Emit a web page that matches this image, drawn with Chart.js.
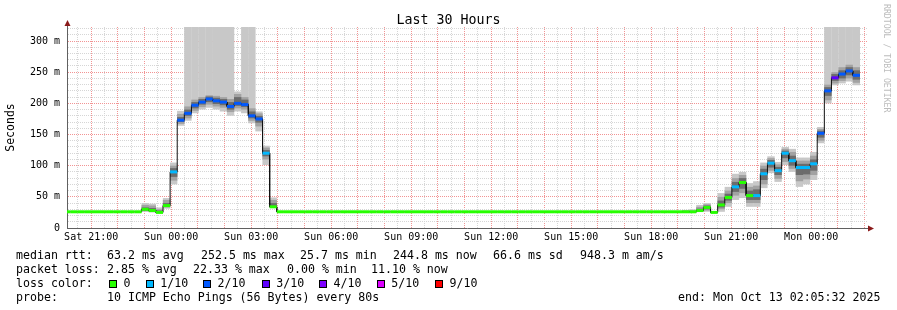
<!DOCTYPE html>
<html><head><meta charset="utf-8">
<script src="https://cdn.jsdelivr.net/npm/chart.js@4/dist/chart.umd.min.js"></script>
<style>
html,body{margin:0;padding:0;background:#fff;}
#wrap{position:relative;width:897px;height:310px;overflow:hidden;font-family:"DejaVu Sans Mono",monospace;background:#fff;}
canvas{position:absolute;left:0;top:0;}
.t{position:absolute;white-space:pre;font-size:11.6px;line-height:14px;color:#000;}
.sq{position:absolute;width:6px;height:6px;border:1px solid #000;}
#title{position:absolute;left:0;width:897px;top:12px;text-align:center;font-size:13.3px;line-height:16px;color:#000;white-space:pre;}
#wm{position:absolute;left:882px;top:4px;writing-mode:vertical-rl;font-size:8.2px;line-height:10px;color:#bcbcbc;white-space:pre;}
</style></head><body>
<div id="wrap">
<canvas id="c" width="897" height="310"></canvas>
<div id="title">Last 30 Hours</div>
<div id="wm">RRDTOOL / TOBI OETIKER</div>
<div id="notes"></div>
</div>
<script>
// ---------- data ----------
const binWidth = 16;               // minutes per consolidated bin
const xTickLabels = ['Sat 21:00','Sun 00:00','Sun 03:00','Sun 06:00','Sun 09:00','Sun 12:00','Sun 15:00','Sun 18:00','Sun 21:00','Mon 00:00'];
const yTickLabels = ['0','50 m','100 m','150 m','200 m','250 m','300 m'];
const lossLabels = ['0','1/10','2/10','3/10','4/10','5/10','9/10'];
const lossColors = ['#26ff00','#00b8ff','#0059ff','#5e00ff','#7e00ff','#dd00ff','#ff0000'];

// median rtt (ms) per bin, bin j centred at j*16 minutes after graph start
const median = [
 26,26,26,26,26,26,26,26,26,26,26,
 30,28,25,36,90,173,184,197,202,207,204,202,195,200,198,180,175,120,34,
 26,26,26,26,26,26,26,26,26,26,26,26,26,26,26,26,26,26,26,26,
 26,26,26,26,26,26,26,26,26,26,26,26,26,26,26,26,26,26,26,26,
 26,26,26,26,26,26,26,26,26,26,26,26,26,26,26,26,26,
 26,26,28,33,25,37,49,66,73,52,52,87,104,92,120,108,97,97,103,152,220,241,247,252,245,
 null
];
// loss level per bin (index into lossColors)
const loss = [
 0,0,0,0,0,0,0,0,0,0,0,0,0,0,0,
 1,2,2,2,2,2,2,2,2,2,2,2,2,1,0,
 0,0,0,0,0,0,0,0,0,0,0,0,0,0,0,0,0,0,0,0,
 0,0,0,0,0,0,0,0,0,0,0,0,0,0,0,0,0,0,0,0,
 0,0,0,0,0,0,0,0,0,0,0,0,0,0,0,0,0,0,0,0,
 0,0,0,0,
 1,0,0,1,1,1,1,1,1,1,1,1,2,2,3,2,2,2,
 null
];
// smoke: bins that show spread, with envelope / middle / core ranges (ms)
const smokeBin = [11,12,13,14,15,16,17,18,19,20,21,22,23,24,25,26,27,28,29,
 87,88,89,90,91,92,93,94,95,96,97,98,99,100,101,102,103,104,105,106,107,108,109,110,111];
const smokeMin = [26,25,25,31,70,164,172,184,190,193,190,187,180,187,184,168,155,101,32,
 25,25,26,26,25,26,34,45,48,34,34,64,88,74,101,90,66,70,77,136,200,229,232,235,229];
const smokeMax = [40,39,33,48,105,188,400,400,400,400,400,400,400,219,400,400,187,132,49,
 29,30,37,40,27,56,66,87,90,72,75,105,115,106,130,127,113,113,122,162,400,400,400,400,400];
const midLo = [27,26,25,33,76,167,176,188,194,198,195,193,186,192,190,172,163,110,33,
 25,25,27,28,25,30,40,52,56,40,40,70,92,79,106,95,75,78,85,140,205,232,236,240,233];
const midHi = [37,36,30,45,100,183,195,206,210,213,212,210,207,215,210,192,184,129,45,
 28,28,34,38,26,50,60,80,85,66,68,100,112,102,127,122,108,108,116,159,230,250,258,262,258];
const coreLo = [28,27,25,34,82,170,180,192,198,202,199,197,190,196,194,176,169,115,33,
 25,25,27,30,25,33,44,58,63,45,45,77,97,85,112,100,85,86,92,145,212,236,240,245,238];
const coreHi = [33,32,28,40,96,178,190,202,207,211,209,207,202,210,206,187,180,125,40,
 27,27,31,36,26,44,55,74,80,60,62,95,109,98,124,116,103,103,110,156,226,247,253,258,253];

// half-hour grid positions (minutes after Sat 20:05:32); first is Sat 20:30
const firstHalfHour = 24 + 28/60;
const xTicks = [];
for (let n = 0; n < 60; n++) xTicks.push(firstHalfHour + 30*n);

// ---------- text block ----------
const notes = [
 [247.5, [[16,'median rtt:'],[107,'63.2 ms avg'],[201,'252.5 ms max'],[300,'25.7 ms min'],[393,'244.8 ms now'],[493,'66.6 ms sd'],[580,'948.3 m am/s']]],
 [261.7, [[16,'packet loss:'],[107,'2.85 % avg'],[193,'22.33 % max'],[287,'0.00 % min'],[371,'11.10 % now']]],
 [276, [[16,'loss color:']]],
 [290, [[16,'probe:'],[107,'10 ICMP Echo Pings (56 Bytes) every 80s'],[678,'end: Mon Oct 13 02:05:32 2025']]]
];
const legendX = [109,145.7,203,261.7,319,376.7,435];
const notesEl = document.getElementById('notes');
notes.forEach(([top, items]) => items.forEach(([x, s]) => {
  const d = document.createElement('div'); d.className = 't';
  d.style.left = x + 'px'; d.style.top = top + 'px'; d.textContent = s; notesEl.appendChild(d);
}));
legendX.forEach((x, i) => {
  const q = document.createElement('div'); q.className = 'sq';
  q.style.left = x + 'px'; q.style.top = '279.5px'; q.style.background = lossColors[i]; notesEl.appendChild(q);
  const d = document.createElement('div'); d.className = 't';
  d.style.left = (x + 14.5) + 'px'; d.style.top = '276px'; d.textContent = lossLabels[i]; notesEl.appendChild(d);
});

// ---------- chart ----------
Chart.defaults.font.family = '"DejaVu Sans Mono", monospace';
const medPts = [];
median.forEach((v, j) => {
  medPts.push({x: j*binWidth - binWidth/2, y: v}, {x: j*binWidth + binWidth/2, y: v});
});
const smokeSet = (lo, hi, color, order) => ({
  type: 'bar', order,
  data: smokeBin.map((j, i) => ({x: j*binWidth, y: [lo[i], hi[i]]})),
  backgroundColor: color, borderWidth: 0, grouped: false,
  barPercentage: 1.04, categoryPercentage: 1
});
const MAJOR = '#f29494', MINOR = '#d6d6d6';

const axisArrows = {
  id: 'axisArrows',
  afterDraw(chart) {
    const {ctx, chartArea: a} = chart;
    const x0 = Math.round(a.left) + 0.5, y0 = Math.round(a.bottom) + 0.5;
    ctx.save();
    ctx.strokeStyle = '#606060'; ctx.lineWidth = 1;
    ctx.beginPath();
    ctx.moveTo(x0, a.top); ctx.lineTo(x0, a.top - 2);
    ctx.moveTo(a.right, y0); ctx.lineTo(a.right + 2, y0);
    ctx.stroke();
    ctx.fillStyle = '#8b1a1a';
    ctx.beginPath(); ctx.moveTo(x0 - 3, a.top - 1); ctx.lineTo(x0 + 3, a.top - 1); ctx.lineTo(x0, a.top - 7); ctx.closePath(); ctx.fill();
    ctx.beginPath(); ctx.moveTo(a.right + 1, y0 - 3); ctx.lineTo(a.right + 1, y0 + 3); ctx.lineTo(a.right + 7, y0); ctx.closePath(); ctx.fill();
    ctx.restore();
  }
};

new Chart(document.getElementById('c'), {
  type: 'line',
  data: {
    datasets: [
      {
        type: 'line', order: 0, data: medPts, borderWidth: 3, borderColor: lossColors[0],
        pointRadius: 0, spanGaps: false, borderCapStyle: 'butt', tension: 0,
        segment: {
          borderColor: c => (c.p0DataIndex % 2 === 0 && loss[c.p0DataIndex >> 1] != null)
            ? lossColors[loss[c.p0DataIndex >> 1]] : 'rgba(0,0,0,0)'
        }
      },
      { type: 'line', order: 1, data: medPts, borderWidth: 1, borderColor: '#111', pointRadius: 0, spanGaps: false, tension: 0 },
      smokeSet(coreLo, coreHi, '#6c6c6c', 2),
      smokeSet(midLo, midHi, '#a2a2a2', 3),
      smokeSet(smokeMin, smokeMax, '#c8c8c8', 4)
    ]
  },
  options: {
    responsive: false, animation: false, events: [], devicePixelRatio: 1,
    layout: {padding: {top: 27, right: 30, left: 0, bottom: 0}},
    plugins: {legend: {display: false}, tooltip: {enabled: false}, title: {display: false}},
    scales: {
      x: {
        type: 'linear', min: 0, max: 1800, offset: false, bounds: 'data',
        afterFit: s => { s.height = 82; },
        afterBuildTicks: s => { s.ticks = xTicks.map(v => ({value: v})); },
        grid: {color: c => (c.index % 2 === 1 ? MAJOR : MINOR), lineWidth: 1, drawTicks: false, offset: false},
        border: {display: true, color: '#606060', dash: [1, 1]},
        ticks: {
          autoSkip: false, maxRotation: 0, minRotation: 0, padding: 3, color: '#000', font: {size: 10},
          callback: (v, i) => ((i - 1) % 6 === 0 ? xTickLabels[(i - 1) / 6] : '')
        }
      },
      y: {
        min: 0, max: 322.5, bounds: 'data',
        afterFit: s => { s.width = 67; },
        grid: {color: c => (c.tick.value === 0 ? 'rgba(0,0,0,0)' : (c.tick.value % 50 === 0 ? MAJOR : MINOR)), lineWidth: 1, drawTicks: false},
        border: {display: true, color: '#606060', dash: [1, 1]},
        ticks: {
          stepSize: 10, includeBounds: false, autoSkip: false, padding: 7, color: '#000', font: {size: 10},
          callback: v => (v % 50 === 0 ? yTickLabels[v / 50] : '')
        },
        title: {display: true, text: 'Seconds', color: '#000', font: {size: 11.5}, padding: {top: 4, bottom: 0}}
      }
    }
  },
  plugins: [axisArrows]
});
</script>
</body></html>
